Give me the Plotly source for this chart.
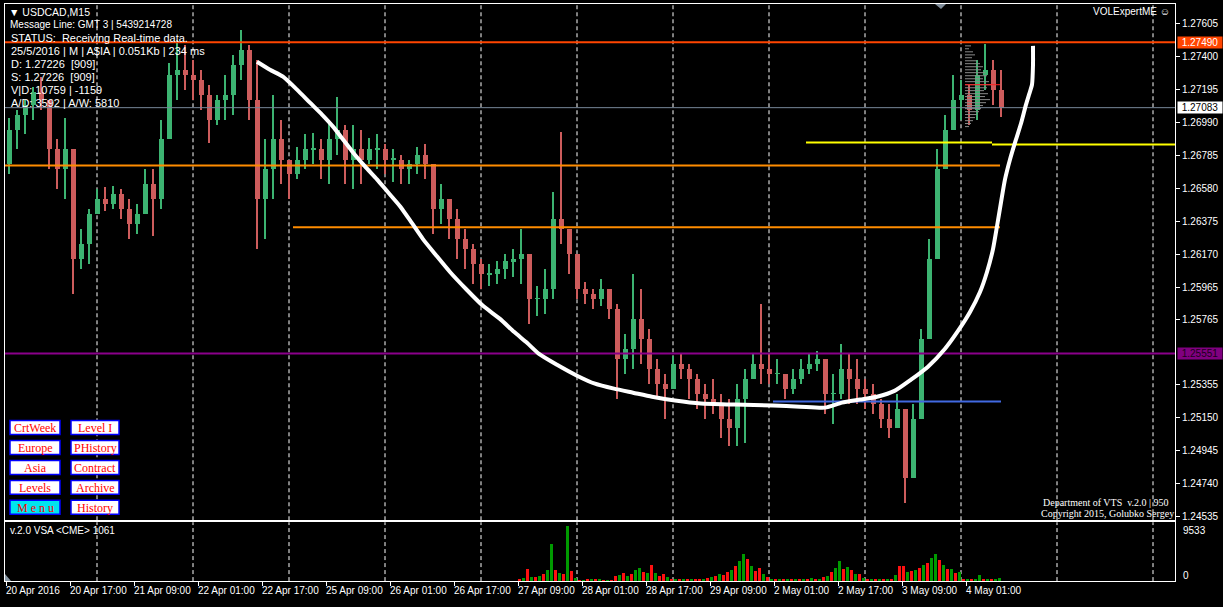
import plotly.graph_objects as go

W, H = 1223, 607
def px(x): return x / W
def py(y): return 1 - y / H

# ---------------- data ----------------
BIN = 8                      # one drawn bar = 8 x M15 (2 hours)
first_open = 1.26729
bar_high = [
    1.27021, 1.27071, 1.27133, 1.27214, 1.27276, 1.27133, 1.26885, 1.27021, 1.26823, 1.26326,
    1.26450, 1.26574, 1.26587, 1.26593, 1.26574, 1.26512, 1.26481, 1.26698, 1.26698, 1.27009,
    1.27363, 1.27506, 1.27475, 1.27381, 1.27319, 1.27226, 1.27164, 1.27288, 1.27412, 1.27568,
    1.27475, 1.27381, 1.26885, 1.27164, 1.27009, 1.26760, 1.26835, 1.26916, 1.26928, 1.26885,
    1.27009, 1.27152, 1.26978, 1.26978, 1.26947, 1.26897, 1.26916, 1.26854, 1.26823, 1.26791,
    1.26760, 1.26835, 1.26854, 1.26636, 1.26605, 1.26512, 1.26450, 1.26326, 1.26233, 1.26139,
    1.26108, 1.26127, 1.26170, 1.26202, 1.26326, 1.26139, 1.25972, 1.26077, 1.26556, 1.26934,
    1.26326, 1.26139, 1.25997, 1.25953, 1.26015, 1.25953, 1.25860, 1.25674, 1.26046, 1.25953,
    1.25705, 1.25518, 1.25425, 1.25537, 1.25549, 1.25487, 1.25425, 1.25363, 1.25394, 1.25301,
    1.25270, 1.25363, 1.25456, 1.25549, 1.25860, 1.25549, 1.25518, 1.25425, 1.25456, 1.25518,
    1.25549, 1.25568, 1.25518, 1.25425, 1.25612, 1.25549, 1.25518, 1.25394, 1.25363, 1.25270,
    1.25239, 1.25301, 1.25208, 1.25239, 1.25705, 1.26264, 1.26823, 1.27040, 1.27288, 1.27257,
    1.27226, 1.27381, 1.27481, 1.27381, 1.27319]
bar_low = [
    1.26667, 1.26823, 1.26916, 1.27009, 1.27071, 1.26698, 1.26574, 1.26512, 1.25922, 1.26077,
    1.26108, 1.26419, 1.26437, 1.26450, 1.26388, 1.26264, 1.26295, 1.26419, 1.26282, 1.26450,
    1.26885, 1.27133, 1.27195, 1.27133, 1.27071, 1.26866, 1.26978, 1.27009, 1.27040, 1.27257,
    1.27009, 1.26202, 1.26264, 1.26512, 1.26605, 1.26512, 1.26636, 1.26698, 1.26729, 1.26636,
    1.26605, 1.26791, 1.26605, 1.26574, 1.26605, 1.26729, 1.26698, 1.26667, 1.26618, 1.26605,
    1.26605, 1.26667, 1.26636, 1.26295, 1.26357, 1.26264, 1.26139, 1.26077, 1.25984, 1.25953,
    1.25972, 1.25984, 1.26015, 1.26028, 1.25984, 1.25736, 1.25785, 1.25798, 1.25891, 1.26233,
    1.26046, 1.25891, 1.25860, 1.25829, 1.25848, 1.25767, 1.25270, 1.25425, 1.25456, 1.25487,
    1.25363, 1.25270, 1.25146, 1.25363, 1.25394, 1.25270, 1.25208, 1.25146, 1.25177, 1.25022,
    1.24978, 1.24978, 1.24991, 1.25394, 1.25363, 1.25363, 1.25363, 1.25270, 1.25301, 1.25363,
    1.25425, 1.25444, 1.25177, 1.25115, 1.25270, 1.25239, 1.25239, 1.25208, 1.25177, 1.25084,
    1.25022, 1.25084, 1.24618, 1.24835, 1.25146, 1.25705, 1.26139, 1.26698, 1.26978, 1.27009,
    1.26978, 1.27009, 1.27195, 1.27102, 1.27027]
bar_close = [
    1.26947, 1.27040, 1.27102, 1.27183, 1.27133, 1.26823, 1.26698, 1.26823, 1.26139, 1.26233,
    1.26419, 1.26512, 1.26481, 1.26543, 1.26450, 1.26357, 1.26419, 1.26605, 1.26512, 1.26885,
    1.27288, 1.27319, 1.27288, 1.27257, 1.27164, 1.27009, 1.27133, 1.27164, 1.27350, 1.27444,
    1.27133, 1.26512, 1.26698, 1.26885, 1.26760, 1.26667, 1.26760, 1.26823, 1.26823, 1.26760,
    1.26885, 1.26947, 1.26760, 1.26823, 1.26760, 1.26823, 1.26823, 1.26760, 1.26760, 1.26698,
    1.26729, 1.26791, 1.26729, 1.26450, 1.26512, 1.26388, 1.26264, 1.26202, 1.26108, 1.26046,
    1.26046, 1.26077, 1.26127, 1.26139, 1.26170, 1.25891, 1.25891, 1.25953, 1.26388, 1.26326,
    1.26170, 1.25953, 1.25922, 1.25891, 1.25953, 1.25829, 1.25518, 1.25581, 1.25767, 1.25643,
    1.25456, 1.25363, 1.25332, 1.25487, 1.25456, 1.25394, 1.25301, 1.25270, 1.25239, 1.25146,
    1.25084, 1.25270, 1.25394, 1.25487, 1.25456, 1.25425, 1.25425, 1.25332, 1.25394, 1.25456,
    1.25487, 1.25518, 1.25301, 1.25301, 1.25456, 1.25394, 1.25332, 1.25301, 1.25239, 1.25146,
    1.25084, 1.25208, 1.24773, 1.25146, 1.25643, 1.26139, 1.26698, 1.26947, 1.27133, 1.27164,
    1.27071, 1.27288, 1.27319, 1.27195, 1.27083]

# hand drawn white arc (bar index, price)
curve_bar = [252, 265, 278, 292, 305, 317, 328, 338, 348, 360, 372, 383, 395, 407, 418, 431,
             445, 461, 478, 495, 509, 522, 534, 552, 572, 590, 609, 628, 647, 670, 696, 730,
             768, 795, 820, 837, 855, 872, 890, 906, 923, 940, 953, 965, 975, 982, 988, 992,
             996, 1000, 1005, 1011, 1016, 1021, 1024, 1027, 1028, 1028]
curve_price = [1.27369, 1.27319, 1.27276, 1.27195, 1.27114, 1.27040, 1.26965, 1.26885, 1.26804,
               1.26717, 1.26636, 1.26556, 1.26469, 1.26363, 1.26264, 1.26164, 1.26059, 1.25953,
               1.25848, 1.25767, 1.25686, 1.25618, 1.25549, 1.25481, 1.25413, 1.25363, 1.25332,
               1.25307, 1.25282, 1.25258, 1.25239, 1.25233, 1.25227, 1.25220, 1.25214, 1.25245,
               1.25264, 1.25282, 1.25320, 1.25388, 1.25469, 1.25581, 1.25692, 1.25810, 1.25934,
               1.26059, 1.26202, 1.26344, 1.26493, 1.26636, 1.26760, 1.26885, 1.26984, 1.27102,
               1.27164, 1.27226, 1.27350, 1.27468]

# horizontal levels: price, from bar, to bar, colour, width
level_price = [1.27490, 1.27083, 1.26866, 1.26854, 1.26723, 1.26338, 1.25551, 1.25252, 1.27226]
level_from  = [0, 0, 801, 987, 0, 288, 0, 768, 960]
level_to    = [1170, 1170, 987, 1170, 995, 995, 1170, 996, 995]
level_color = ["#FF4500", "#778899", "#FFFF00", "#FFFF00", "#FF8C00", "#FF8C00",
               "#8B008B", "#4169E1", "#FF2020"]
level_width = [2, 1, 2, 2, 2, 2, 2, 2, 1]

# volume profile (top right)
profile_price = [1.27468, 1.27450, 1.27431, 1.27412, 1.27394, 1.27375, 1.27357, 1.27338,
                 1.27319, 1.27301, 1.27282, 1.27263, 1.27245, 1.27226, 1.27207, 1.27189,
                 1.27170, 1.27152, 1.27133, 1.27114, 1.27096, 1.27077, 1.27058, 1.27040,
                 1.27021, 1.27002, 1.26984, 1.26965]
profile_len = [6, 4, 8, 10, 7, 12, 15, 18, 16, 20, 22, 18, 24, 26, 22, 19, 23, 20, 25, 21,
               18, 16, 14, 12, 10, 8, 6, 4]
profile_start = 960

# volume (CME), hourly bins starting at bar 512
VOL_START, VOL_BIN = 512, 4
volume = [
    300, 500, 2080, 600, 700, 900, 1200, 1800, 6400, 1900,
    1400, 1200, 9533, 1700, 500, 100, 100, 150, 200, 300,
    300, 100, 100, 100, 900, 1000, 1300, 900, 1100, 1800,
    2200, 1600, 1400, 2800, 1300, 900, 1100, 600, 150, 150,
    200, 200, 300, 200, 400, 300, 400, 500, 700, 800,
    1200, 1000, 1500, 1800, 2600, 3500, 4700, 3800, 2500, 1700,
    2200, 1200, 600, 200, 200, 300, 200, 400, 300, 200,
    300, 400, 300, 500, 400, 300, 600, 900, 1500, 2200,
    3500, 2000, 2400, 1800, 1200, 1100, 500, 200, 300, 200,
    200, 300, 200, 300, 1000, 2600, 2600, 1500, 1700, 1900,
    2200, 2700, 3100, 4000, 4700, 3600, 2800, 2100, 2000, 1400,
    1500, 300, 300, 400, 300, 1000, 400, 300, 400, 300,
    500]
volume_dir = ("dudududuud" "ududududud" "ududdududu" "udududdudu" "dududdudud"
              "udduduudud" "dududududu" "dududududu" "ududududud" "udududdudu"
              "duduududud" "ududuududu" "u")

# axes
price_ticks = [1.27605, 1.27400, 1.27195, 1.26990, 1.26785, 1.26580, 1.26375, 1.26170,
               1.25965, 1.25765, 1.25355, 1.25150, 1.24945, 1.24740, 1.24535]
time_pos = [1, 65, 129, 193, 257, 321, 385, 449, 513, 577, 641, 705, 769, 833, 897, 961]
time_text = ["20 Apr 2016", "20 Apr 17:00", "21 Apr 09:00", "22 Apr 01:00", "22 Apr 17:00",
             "25 Apr 09:00", "26 Apr 01:00", "26 Apr 17:00", "27 Apr 09:00", "28 Apr 01:00",
             "28 Apr 17:00", "29 Apr 09:00", "2 May 01:00", "2 May 17:00", "3 May 09:00",
             "4 May 01:00"]
day_sep = [92, 188, 284, 380, 476, 572, 668, 764, 860, 956, 1052, 1148]

# ---------------- figure ----------------
UP, DN = "#3CB371", "#CD5C5C"
fig = go.Figure()

opens = [first_open] + bar_close[:-1]
xs = [BIN * k + BIN / 2 for k in range(len(bar_close))]
hi = [max(h, o, c) for h, o, c in zip(bar_high, opens, bar_close)]
lo = [min(l, o, c) for l, o, c in zip(bar_low, opens, bar_close)]
cols = [UP if c >= o else DN for o, c in zip(opens, bar_close)]

fig.add_trace(go.Bar(x=xs, y=[h - l for h, l in zip(hi, lo)], base=lo, width=2,
                     marker=dict(color=cols, line_width=0), xaxis="x", yaxis="y"))
fig.add_trace(go.Bar(x=xs, y=[max(abs(c - o), 0.00004) for o, c in zip(opens, bar_close)],
                     base=[min(o, c) for o, c in zip(opens, bar_close)], width=5,
                     marker=dict(color=cols, line_width=0), xaxis="x", yaxis="y"))

# volume profile lines
pxl, pyl = [], []
for p, n in zip(profile_price, profile_len):
    pxl += [profile_start, profile_start + n, None]
    pyl += [p, p, None]
fig.add_trace(go.Scatter(x=pxl, y=pyl, mode="lines", line=dict(color="#8A8A8A", width=1),
                         xaxis="x", yaxis="y"))

for p, a, b, c, w in zip(level_price, level_from, level_to, level_color, level_width):
    fig.add_trace(go.Scatter(x=[a, b], y=[p, p], mode="lines", line=dict(color=c, width=w),
                             xaxis="x", yaxis="y"))

fig.add_trace(go.Scatter(x=curve_bar, y=curve_price, mode="lines",
                         line=dict(color="white", width=4, shape="spline", smoothing=0.6),
                         xaxis="x", yaxis="y"))

vx = [VOL_START + VOL_BIN * i + VOL_BIN / 2 for i in range(len(volume))]
vcol = ["#009A00" if d == "u" else "#FF1010" for d in volume_dir]
fig.add_trace(go.Bar(x=vx, y=volume, width=3, marker=dict(color=vcol, line_width=0),
                     xaxis="x2", yaxis="y2"))

# ---------------- layout ----------------
FONT = "Liberation Sans"
shapes = []
for d in day_sep:
    for yr in ("y domain", "y2 domain"):
        shapes.append(dict(type="line", xref="x", yref=yr, x0=d, x1=d, y0=0, y1=1,
                           line=dict(color="white", width=1, dash="4px,3px"), layer="below"))

# shift marker on top and scroll marker bottom-left
shapes.append(dict(type="path", xref="paper", yref="paper",
                   path=f"M {px(935)},{py(4)} L {px(946)},{py(4)} L {px(941)},{py(9)} Z",
                   fillcolor="#7F8C99", line_width=0))
shapes.append(dict(type="path", xref="paper", yref="paper",
                   path=f"M {px(5)},{py(583)} L {px(5)},{py(576)} L {px(11)},{py(583)} Z",
                   fillcolor="#8A9AA8", line_width=0))

annotations = []
def text(x, y, s, size=11, color="white", anchor="left", family=FONT):
    annotations.append(dict(xref="paper", yref="paper", x=px(x), y=py(y), text=s,
                            showarrow=False, xanchor=anchor, yanchor="middle",
                            font=dict(family=family, size=size, color=color)))

text(7, 12, "▼ USDCAD,M15", 10.5)
text(8, 25, "Message Line: GMT 3 | 5439214728", 10)
text(9, 38, "STATUS:\u00a0 Receiving Real-time data.", 11)
text(9, 51, "25/5/2016 | M | A$IA | 0.051Kb | 234 ms", 11)
text(9, 64, "D: 1.27226\u00a0 [909]", 11)
text(9, 77, "S: 1.27226\u00a0 [909]", 11)
text(9, 90, "V|D: 10759 | -1159", 11)
text(9, 103, "A/D: 3592 | A/W: 5810", 11)
text(1172, 12, "VOLExpertME ☺", 10, anchor="right")
text(1106, 504, "Department of VTS\u00a0 v.2.0 | 950", 10, anchor="center", family="Liberation Serif")
text(1107, 515, "Copyright 2015, Golubko Sergey", 10, anchor="center", family="Liberation Serif")
text(8, 532, "v.2.0 VSA &lt;CME&gt; 1061", 10)
text(1181, 532, "9533", 10)
text(1181, 577, "0", 10)

for pos, s in zip(time_pos, time_text):
    annotations.append(dict(xref="x", yref="paper", x=pos, y=py(592), text=s, showarrow=False,
                            xanchor="left", yanchor="middle", xshift=-2,
                            font=dict(family=FONT, size=10, color="white")))

# highlighted price labels
for p, bg, fc in [(1.27490, "#FF4500", "white"), (1.27083, "white", "black"),
                  (1.25551, "#800080", "#1A001A")]:
    annotations.append(dict(xref="paper", yref="y", x=px(1177), y=p, text=f"{p:.5f}",
                            showarrow=False, xanchor="left", yanchor="middle", width=44,
                            height=11, bgcolor=bg, borderpad=0,
                            font=dict(family=FONT, size=10, color=fc)))

# buttons
buttons = [("CrtWeek", 10, 422), ("Level I", 71, 422), ("Europe", 10, 442), ("PHistory", 71, 442),
           ("Asia", 10, 462), ("Contract", 71, 462), ("Levels", 10, 482), ("Archive", 71, 482),
           ("M e n u", 10, 502), ("History", 71, 502)]
for lab, x0, y0 in buttons:
    w = 50 if x0 == 10 else 48
    fill = "#00E5EE" if lab.startswith("M") else "white"
    shapes.append(dict(type="rect", xref="paper", yref="paper", x0=px(x0), x1=px(x0 + w),
                       y0=py(y0 + 14), y1=py(y0), fillcolor=fill,
                       line=dict(color="#0000FF", width=1.5)))
    text(x0 + w / 2, y0 + 7.5, lab, 12, color="#FF0000", anchor="center", family="Liberation Serif")

fig.update_layout(
    width=W, height=607, autosize=False, margin=dict(l=0, r=0, t=0, b=0),
    paper_bgcolor="black", plot_bgcolor="black", showlegend=False,
    barmode="overlay", bargap=0, hovermode=False,
    xaxis=dict(domain=[px(5), px(1175)], range=[0, 1170], anchor="y", showticklabels=False,
               showgrid=False, zeroline=False, showline=True, mirror=True, linecolor="white",
               linewidth=1, ticks=""),
    yaxis=dict(domain=[py(522), py(4)], range=[1.24512, 1.27729], side="right", anchor="x",
               tickvals=price_ticks, ticktext=[f"{v:.5f}" for v in price_ticks],
               ticks="outside", ticklen=4, tickcolor="white",
               tickfont=dict(family=FONT, size=10, color="white"),
               showgrid=False, zeroline=False, showline=True, mirror=True, linecolor="white",
               linewidth=1),
    xaxis2=dict(domain=[px(5), px(1175)], range=[0, 1170], anchor="y2", matches="x",
                tickvals=time_pos, ticks="outside", ticklen=4, tickcolor="white",
                showticklabels=False, showgrid=False, zeroline=False, showline=True,
                mirror=True, linecolor="white", linewidth=1),
    yaxis2=dict(domain=[py(583), py(524)], range=[0, 10227], side="right", anchor="x2",
                showticklabels=False, ticks="", showgrid=False, zeroline=False,
                showline=True, mirror=True, linecolor="white", linewidth=1),
    shapes=shapes, annotations=annotations,
)

fig.write_html("out.html", config={"displayModeBar": False},
               post_script="document.body.style.margin='0px';"
                           "document.body.style.background='black';")
